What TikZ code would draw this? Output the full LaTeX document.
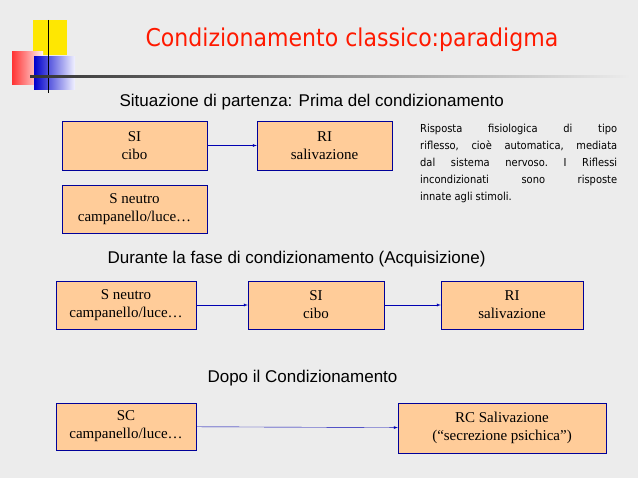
\documentclass[tikz,border=0pt]{standalone}
\usepackage{fontspec}
\setmainfont{Liberation Serif}
\setsansfont{Liberation Sans}
\newfontfamily\comicc{DejaVu Sans Condensed}
\newcommand{\jline}[1]{\makebox[197pt][s]{#1}\\}
\begin{document}
\begin{tikzpicture}[x=1pt,y=-1pt,
  bx/.style={draw=blue!60!black,fill=orange!40!white,inner sep=0pt,font=\fontsize{15}{18}\selectfont,align=center},
  arr/.style={-latex,blue!70!black},
  hd/.style={anchor=west,font=\sffamily\fontsize{17}{20}\selectfont}]
\fill[gray!15] (0,0) rectangle (638,478);
\useasboundingbox (0,0) rectangle (638,478);
\fill[yellow!90!orange] (33,20) rectangle (67,55);
\shade[left color=red!80,right color=red!5] (12,52) rectangle (43,85);
\shade[left color=blue!80!black,right color=blue!5] (34,57) rectangle (75,90);
\draw[thick] (48,20) -- (48,93);
\shade[left color=black!80,right color=gray!15] (30,76) rectangle (630,78);
\node[font=\comicc\fontsize{24.5}{28}\selectfont,text=red!80!orange] (t) at (352,40) {Condizionamento classico:paradigma};
\node[hd] (h1) at (116,102) {Situazione di partenza: Prima del condizionamento};
\node[hd] (h2) at (104,259) {Durante la fase di condizionamento (Acquisizione)};
\node[hd] (h3) at (204,378) {Dopo il Condizionamento};
\node[bx,minimum width=145,minimum height=49] (a1) at (134.5,145.5) {SI\\cibo};
\node[bx,minimum width=135,minimum height=49] (a2) at (324.5,145.5) {RI\\salivazione};
\node[bx,minimum width=145,minimum height=48] (a3) at (134.5,209) {S neutro\\campanello/luce…};
\draw[arr] (a1) -- (a2);
\node[anchor=north west,inner sep=0pt,align=left,font=\comicc\fontsize{11}{17}\selectfont] (p) at (420,124) {\jline{Risposta\hfill fisiologica\hfill di\hfill tipo}\jline{riflesso,\hfill cioè\hfill automatica,\hfill mediata}\jline{dal\hfill sistema\hfill nervoso.\hfill I\hfill Riflessi}\jline{incondizionati\hfill sono\hfill risposte}innate agli stimoli.};
\node[bx,minimum width=140,minimum height=48] (b1) at (126,305) {S neutro\\campanello/luce…};
\node[bx,minimum width=136,minimum height=48] (b2) at (316,305) {SI\\cibo};
\node[bx,minimum width=142,minimum height=48] (b3) at (512,305) {RI\\salivazione};
\draw[arr] (b1) -- (b2);
\draw[arr] (b2) -- (b3);
\node[bx,minimum width=140,minimum height=47] (c1) at (126,426.5) {SC\\campanello/luce…};
\node[bx,minimum width=208,minimum height=50] (c2) at (502,428) {RC Salivazione\\(“secrezione psichica”)};
\draw[arr] (c1) -- (c2);
\end{tikzpicture}
\end{document}
